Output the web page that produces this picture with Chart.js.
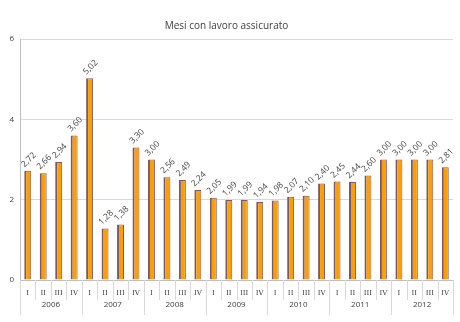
<!DOCTYPE html>
<html><head><meta charset="utf-8">
<script src="https://cdn.jsdelivr.net/npm/chart.js@4"></script>
<style>html,body{margin:0;padding:0;background:#fff}#w{width:460px;height:322px}</style>
</head><body><div id="w"><canvas id="c"></canvas></div>
<script>
const quarters = ["I","II","III","IV","I","II","III","IV","I","II","III","IV","I","II","III","IV","I","II","III","IV","I","II","III","IV","I","II","III","IV"];
const years = ["2006","2007","2008","2009","2010","2011","2012"];
const values = [2.72,2.66,2.94,3.60, 5.02,1.28,1.38,3.30, 3.00,2.56,2.49,2.24, 2.05,1.99,1.99,1.94, 1.98,2.07,2.10,2.40, 2.45,2.44,2.60,3.00, 3.00,3.00,3.00,2.81];
const yTicks = [0,2,4,6];

const FONT = "'Open Sans', 'DejaVu Sans', sans-serif";

const labelPlugin = {
  id: 'lbl',
  afterDatasetsDraw(chart) {
    const ctx = chart.ctx;
    const meta = chart.getDatasetMeta(0);
    ctx.save();
    ctx.font = "8.5px " + FONT;
    ctx.fillStyle = '#404040';
    ctx.textAlign = 'center';
    ctx.textBaseline = 'middle';
    meta.data.forEach((bar, i) => {
      const txt = values[i].toFixed(2).replace('.', ',');
      ctx.save();
      ctx.translate(bar.x + 1, bar.y - 11);
      ctx.rotate(-Math.PI / 4);
      ctx.fillText(txt, 0, 0);
      ctx.restore();
    });
    ctx.restore();
  }
};

const sepPlugin = {
  id: 'sep',
  afterDraw(chart) {
    const ctx = chart.ctx;
    const xs = chart.scales.x;
    const bottom = chart.chartArea.bottom;
    const n = quarters.length;
    const step = (xs.getPixelForValue(1) - xs.getPixelForValue(0));
    ctx.save();
    ctx.strokeStyle = '#d9d9d9';
    ctx.lineWidth = 1;
    for (let i = 0; i <= n; i++) {
      const x = Math.round(xs.getPixelForValue(i) - step / 2) + 0.5;
      const len = (i % 4 === 0) ? 35 : 20;
      ctx.beginPath();
      ctx.moveTo(x, bottom);
      ctx.lineTo(x, bottom + len);
      ctx.stroke();
    }
    ctx.restore();
  }
};

new Chart(document.getElementById('c'), {
  type: 'bar',
  data: {
    labels: quarters,
    datasets: [{
      data: values,
      backgroundColor: '#FF9E00',
      borderColor: '#7a5a6a',
      borderWidth: {left: 2, right: 1, top: 1, bottom: 0},
      borderSkipped: 'bottom',
      barPercentage: 0.45,
      categoryPercentage: 1.0
    }]
  },
  options: {
    responsive: true,
    maintainAspectRatio: false,
    animation: false,
    layout: {padding: {left: 0, right: 7, top: 12, bottom: 10}},
    plugins: {
      legend: {display: false},
      tooltip: {enabled: false},
      title: {
        display: true,
        text: 'Mesi con lavoro assicurato',
        color: '#404040',
        font: {family: FONT, size: 10, weight: 'normal'},
        padding: {top: 8, bottom: 7}
      }
    },
    scales: {
      x: {
        type: 'category',
        labels: quarters,
        grid: {display: false, offset: true, drawTicks: false},
        border: {display: true, color: '#bfbfbf'},
        ticks: {color: '#404040', font: {family: "'DejaVu Serif', serif", size: 7}, padding: 9, maxRotation: 0, autoSkip: false},
        afterFit(scale) { scale.height = 18; }
      },
      x2: {
        type: 'category',
        labels: years,
        position: 'bottom',
        offset: true,
        grid: {display: false, drawTicks: false},
        border: {display: false},
        ticks: {color: '#404040', font: {family: FONT, size: 8}, padding: 2, maxRotation: 0},
        afterFit(scale) { scale.height = 14; }
      },
      y: {
        min: 0, max: 6,
        afterBuildTicks(axis) { axis.ticks = yTicks.map(v => ({value: v})); },
        grid: {color: '#d9d9d9', drawTicks: false},
        border: {display: true, color: '#bfbfbf'},
        ticks: {color: '#404040', font: {family: FONT, size: 8}, padding: 6},
        afterFit(scale) { scale.width = 20; }
      }
    }
  },
  plugins: [labelPlugin, sepPlugin]
});
</script>
</body></html>
